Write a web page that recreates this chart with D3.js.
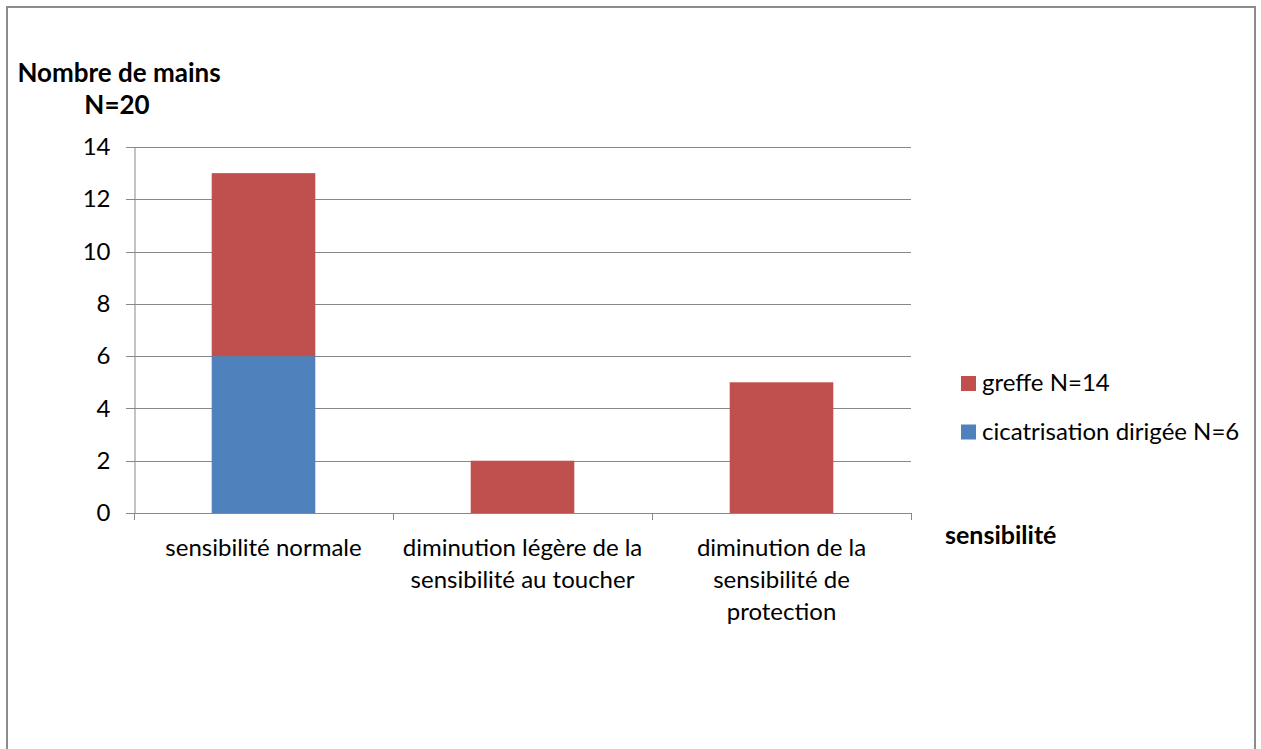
<!DOCTYPE html>
<meta charset="utf-8">
<script src="https://d3js.org/d3.v7.min.js"></script>
<style>
body { margin: 0; background: #fff; }
text { font-family: Lato, "Open Sans", sans-serif; fill: #000; }
.grid line { stroke: #888; stroke-width: 1; }
</style>
<body></body>
<script>
// chart values
var categories = ["sensibilité normale", "diminution légère de la sensibilité au toucher", "diminution de la sensibilité de protection"];
var categoryLines = [["sensibilité normale"], ["diminution légère de la", "sensibilité au toucher"], ["diminution de la", "sensibilité de", "protection"]];
var seriesNames = ["cicatrisation dirigée N=6", "greffe N=14"];
var cicatrisation = [6, 0, 0];
var greffe = [7, 2, 5];
var yTicks = [0, 2, 4, 6, 8, 10, 12, 14];

var colors = { "cicatrisation dirigée N=6": "#4F81BD", "greffe N=14": "#C0504D" };

var W = 1261, H = 749;
var svg = d3.select("body").append("svg")
  .attr("width", W)
  .attr("height", H);

// outer frame
svg.append("rect")
  .attr("x", 7).attr("y", 7)
  .attr("width", 1248).attr("height", 760)
  .attr("fill", "none")
  .attr("stroke", "#8c8c8c")
  .attr("stroke-width", 2);

var plotLeft = 134, plotRight = 911, plotTop = 147, plotBottom = 513;

var xScale = d3.scaleBand()
  .domain(categories)
  .range([plotLeft, plotRight])
  .paddingInner(0.6)
  .paddingOuter(0.3);

var yScale = d3.scaleLinear()
  .domain([0, 14])
  .range([plotBottom, plotTop]);

// gridlines
svg.append("g").attr("class", "grid")
  .selectAll("line")
  .data(yTicks)
  .enter().append("line")
  .attr("x1", plotLeft - 8).attr("x2", plotRight)
  .attr("y1", function(d) { return Math.round(yScale(d)) + 0.5; })
  .attr("y2", function(d) { return Math.round(yScale(d)) + 0.5; });

// stacked bars
var table = categories.map(function(c, i) {
  return { cat: c, "cicatrisation dirigée N=6": cicatrisation[i], "greffe N=14": greffe[i] };
});
var stacked = d3.stack().keys(seriesNames)(table);

svg.selectAll(".layer")
  .data(stacked)
  .enter().append("g")
  .attr("class", "layer")
  .attr("fill", function(d) { return colors[d.key]; })
  .selectAll("rect")
  .data(function(d) { return d; })
  .enter().append("rect")
  .attr("x", function(d) { return xScale(d.data.cat); })
  .attr("y", function(d) { return yScale(d[1]); })
  .attr("width", xScale.bandwidth())
  .attr("height", function(d) { return yScale(d[0]) - yScale(d[1]); });

// y axis
var yAxis = d3.axisLeft(yScale).tickValues(yTicks).tickSize(0).tickPadding(24);
var yG = svg.append("g")
  .attr("transform", "translate(" + (plotLeft + 0.5) + ",0)")
  .call(yAxis);
yG.select(".domain").attr("stroke", "#888");
yG.selectAll("text")
  .style("font-size", "24px")
  .style("font-family", "Lato, sans-serif")
  .attr("fill", "#000");

// x axis
var xG = svg.append("g");
xG.append("line")
  .attr("x1", plotLeft - 8).attr("x2", plotRight)
  .attr("y1", plotBottom + 0.5).attr("y2", plotBottom + 0.5)
  .attr("stroke", "#888");
var step = xScale.step();
var xTicks = d3.range(categories.length + 1).map(function(i) { return plotLeft + i * step; });
xG.selectAll(".xtick")
  .data(xTicks)
  .enter().append("line")
  .attr("class", "xtick")
  .attr("x1", function(d) { return Math.round(d) + 0.5; })
  .attr("x2", function(d) { return Math.round(d) + 0.5; })
  .attr("y1", plotBottom).attr("y2", plotBottom + 7)
  .attr("stroke", "#888");

categories.forEach(function(c, i) {
  var cx = xScale(c) + xScale.bandwidth() / 2;
  var t = xG.append("text")
    .attr("text-anchor", "middle")
    .style("font-size", "24px");
  categoryLines[i].forEach(function(line, j) {
    t.append("tspan")
      .attr("x", cx)
      .attr("y", 556 + j * 32)
      .text(line);
  });
});

// axis titles
var yTitle = svg.append("text")
  .attr("text-anchor", "middle")
  .style("font-size", "26px")
  .style("font-weight", "bold");
yTitle.append("tspan").attr("x", 119).attr("y", 82).text("Nombre de mains");
yTitle.append("tspan").attr("x", 117).attr("y", 114).text("N=20");

svg.append("text")
  .attr("x", 945).attr("y", 544)
  .style("font-size", "25px")
  .style("font-weight", "bold")
  .text("sensibilité");

// legend
var legendItems = seriesNames.slice().reverse();
var legend = svg.selectAll(".legend")
  .data(legendItems)
  .enter().append("g")
  .attr("class", "legend")
  .attr("transform", function(d, i) { return "translate(961," + (376 + i * 48.5) + ")"; });
legend.append("rect")
  .attr("width", 15).attr("height", 15)
  .attr("fill", function(d) { return colors[d]; });
legend.append("text")
  .attr("x", 21).attr("y", 15)
  .style("font-size", "24px")
  .text(function(d) { return d; });
</script>
